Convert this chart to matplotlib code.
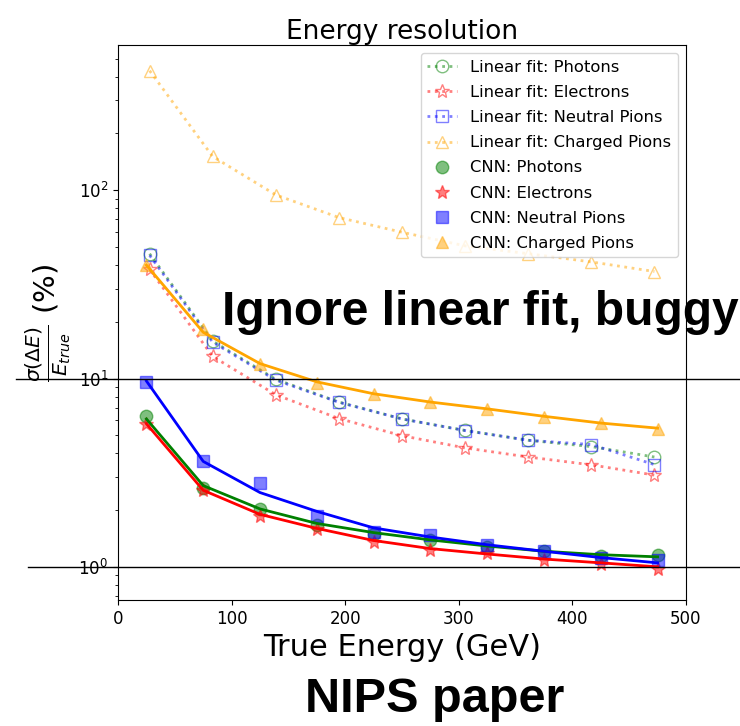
"""
Energy resolution of the calorimeter: linear fit vs CNN regression
"""
import matplotlib.pyplot as plt
import numpy as np

# bin centres (GeV)
e_lin = [27.8, 83.3, 138.9, 194.4, 250.0, 305.6, 361.1, 416.7, 472.2]
e_cnn = [25, 75, 125, 175, 225, 275, 325, 375, 425, 475]

# linear fit resolution (%)
lin_photons = [46.0, 15.8, 9.9, 7.5, 6.1, 5.3, 4.7, 4.35, 3.83]
lin_electrons = [38.0, 13.1, 8.2, 6.13, 4.97, 4.28, 3.83, 3.48, 3.07]
lin_neutral = [45.1, 15.6, 9.8, 7.48, 6.1, 5.29, 4.7, 4.46, 3.49]
lin_charged = [431, 151, 94.4, 71.6, 59.8, 50.6, 46.0, 41.6, 37.0]

# CNN resolution (%), measured points
cnn_photons = [6.3, 2.62, 2.03, 1.67, 1.5, 1.39, 1.28, 1.21, 1.14, 1.15]
cnn_electrons = [5.7, 2.55, 1.87, 1.59, 1.36, 1.23, 1.19, 1.09, 1.03, 0.97]
cnn_neutral = [9.56, 3.66, 2.79, 1.87, 1.54, 1.48, 1.31, 1.21, 1.11, 1.09]
cnn_charged = [40.3, 18.4, 11.9, 9.49, 8.32, 7.48, 6.9, 6.25, 5.77, 5.4]

# CNN resolution curves
fit_photons = [6.1, 2.7, 2.03, 1.7, 1.52, 1.39, 1.29, 1.21, 1.16, 1.13]
fit_electrons = [5.75, 2.55, 1.9, 1.6, 1.38, 1.25, 1.17, 1.1, 1.05, 1.0]
fit_neutral = [9.7, 3.63, 2.48, 1.97, 1.61, 1.44, 1.31, 1.21, 1.12, 1.05]
fit_charged = [40.0, 17.6, 12.0, 9.6, 8.3, 7.5, 6.9, 6.3, 5.8, 5.45]

fig = plt.figure(figsize=(7.4, 7.26), dpi=100)
ax = fig.add_axes([0.1595, 0.1736, 0.7675, 0.7644])

ax.plot(e_lin, lin_photons, ':o', color='g', mfc='none', ms=9, lw=2, alpha=0.5,
        label='Linear fit: Photons')
ax.plot(e_lin, lin_electrons, ':*', color='r', mfc='none', ms=10, lw=2, alpha=0.5,
        label='Linear fit: Electrons')
ax.plot(e_lin, lin_neutral, ':s', color='b', mfc='none', ms=9, lw=2, alpha=0.5,
        label='Linear fit: Neutral Pions')
ax.plot(e_lin, lin_charged, ':^', color='orange', mfc='none', ms=9, lw=2, alpha=0.5,
        label='Linear fit: Charged Pions')

ax.plot(e_cnn, cnn_photons, 'o', color='g', ms=9, alpha=0.5, label='CNN: Photons')
ax.plot(e_cnn, cnn_electrons, '*', color='r', ms=10, alpha=0.5, label='CNN: Electrons')
ax.plot(e_cnn, cnn_neutral, 's', color='b', ms=9, alpha=0.5, label='CNN: Neutral Pions')
ax.plot(e_cnn, cnn_charged, '^', color='orange', ms=9, alpha=0.5, label='CNN: Charged Pions')

ax.plot(e_cnn, fit_photons, '-', color='g', lw=2)
ax.plot(e_cnn, fit_electrons, '-', color='r', lw=2)
ax.plot(e_cnn, fit_neutral, '-', color='b', lw=2)
ax.plot(e_cnn, fit_charged, '-', color='orange', lw=2)

ax.set_yscale('log')
ax.set_xlim(0, 500)
ax.set_ylim(0.667, 590)
ax.set_xticks(np.arange(0, 501, 100))
ax.tick_params(labelsize=12)

ax.set_title('Energy resolution', fontsize=19, pad=4)
ax.set_xlabel('True Energy (GeV)', fontsize=22)
ax.set_ylabel(r'$\frac{\sigma(\Delta E)}{E_{true}}$ (%)', fontsize=21)
ax.legend(loc='upper right', fontsize=11.8, handlelength=1.8, labelspacing=0.62)

# guide lines at 1 % and 10 %
for yv, x0 in [(10, -0.18), (1, -0.158)]:
    ax.axhline(yv, xmin=x0, xmax=1.1, color='black', lw=1, clip_on=False)

fig.text(0.30, 0.552, 'Ignore linear fit, buggy', family='Liberation Sans',
         weight='bold', fontsize=34.5, va='baseline', ha='left')
fig.text(0.587, 0.019, 'NIPS paper', family='Liberation Sans',
         weight='bold', fontsize=35, va='baseline', ha='center')

fig.savefig('out.png')
